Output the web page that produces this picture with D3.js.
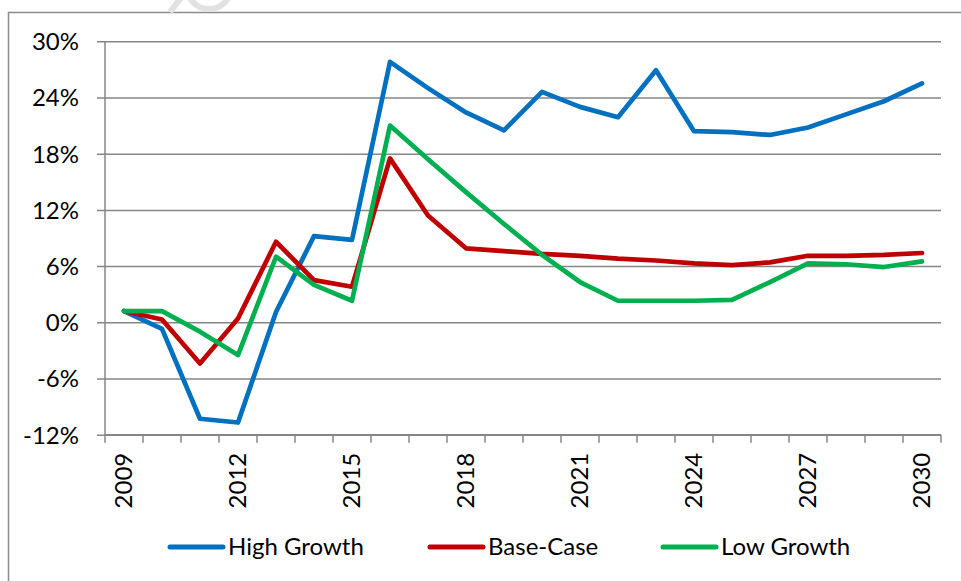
<!DOCTYPE html>
<html>
<head>
<meta charset="utf-8">
<script src="https://cdn.jsdelivr.net/npm/d3@7"></script>
<style>
  body { margin: 0; background: #fff; }
  text { font-family: Lato, "Open Sans", sans-serif; fill: #000; }
  .grid line { stroke: #868686; stroke-width: 1.5; }
  .line { fill: none; stroke-width: 4.7; stroke-linejoin: round; stroke-linecap: round; }
</style>
</head>
<body>
<div id="chart"></div>
<script>
// growth scenarios 2009 to 2030 (annual % change)

var years = ["2009","2010","2011","2012","2013","2014","2015","2016","2017","2018","2019",
             "2020","2021","2022","2023","2024","2025","2026","2027","2028","2029","2030"];
var yTicks = [-12, -6, 0, 6, 12, 18, 24, 30];
var xLabels = ["2009","2012","2015","2018","2021","2024","2027","2030"];

var highGrowth = [1.2, -0.7, -10.3, -10.7, 1.1, 9.2, 8.8, 27.8, 25.0, 22.4, 20.5,
                  24.6, 23.0, 21.9, 26.9, 20.4, 20.3, 20.0, 20.8, 22.2, 23.6, 25.5];
var baseCase = [1.2, 0.3, -4.4, 0.4, 8.6, 4.5, 3.8, 17.5, 11.4, 7.9, 7.6,
                7.3, 7.1, 6.8, 6.6, 6.3, 6.1, 6.4, 7.1, 7.1, 7.2, 7.4];
var lowGrowth = [1.2, 1.2, -1.0, -3.5, 7.0, 4.0, 2.3, 21.0, 17.4, 13.9, 10.5,
                 7.2, 4.3, 2.3, 2.3, 2.3, 2.4, 4.3, 6.3, 6.2, 5.9, 6.5];

var seriesNames = ["High Growth", "Base-Case", "Low Growth"];
var seriesColors = ["#0070C0", "#C00000", "#00B050"];

var data = [highGrowth, baseCase, lowGrowth].map(function(vals, i) {
  return {
    id: seriesNames[i],
    Values: vals.map(function(v, j) { return { year: years[j], value: v }; })
  };
});

var width = 961, height = 581;

var svg = d3.select('#chart')
    .append('svg')
    .attr('width', width)
    .attr('height', height);

// outer chart border (runs off the right and bottom of the picture)
svg.append('rect')
    .attr('x', 8.5)
    .attr('y', 12.5)
    .attr('width', 970)
    .attr('height', 590)
    .attr('fill', 'none')
    .attr('stroke', '#8c8c8c')
    .attr('stroke-width', 1.5);

// faint watermark remnant at the top (only its lower edge is visible)
var wm = svg.append('g').attr('stroke', '#e2e2e2').attr('fill', 'none').attr('stroke-width', 6);
wm.append('line').attr('x1', 170).attr('y1', 12).attr('x2', 181).attr('y2', -2);
wm.append('circle').attr('cx', 209).attr('cy', -13).attr('r', 22);

var margin = { top: 41.3, left: 105 };
var plotW = 941 - margin.left;
var plotH = 434.7 - margin.top;

var g = svg.append('g')
    .attr('transform', 'translate(' + margin.left + ',' + margin.top + ')');

var x_band = d3.scaleBand().domain(years).range([0, plotW]);
var x_scale = function(yr) { return x_band(yr) + x_band.bandwidth() / 2; };
var y_scale = d3.scaleLinear().domain([-12, 30]).range([plotH, 0]);

// horizontal gridlines + y axis labels
var yAxis = d3.axisLeft(y_scale)
    .tickValues(yTicks)
    .tickSize(-plotW)
    .tickPadding(26)
    .tickFormat(function(d) { return d + '%'; });

var gy = g.append('g').attr('class', 'grid').call(yAxis);
gy.select('.domain').remove();
gy.selectAll('.tick line').attr('x1', -8);
gy.selectAll('text')
    .style('font-size', '24px')
    .style('font-family', 'Lato, sans-serif')
    .attr('dy', '0.35em');

// vertical axis line
g.append('line')
    .attr('x1', 0).attr('x2', 0)
    .attr('y1', 0).attr('y2', plotH)
    .attr('stroke', '#868686').attr('stroke-width', 1.5);

// x axis: ticks between categories
var tickPos = years.map(function(y) { return x_band(y); }).concat([plotW]);
var gx = g.append('g').attr('transform', 'translate(0,' + plotH + ')');
gx.append('line')
    .attr('x1', 0).attr('x2', plotW)
    .attr('stroke', '#868686').attr('stroke-width', 1.5);
gx.selectAll('.xtick')
    .data(tickPos)
    .enter()
    .append('line')
    .attr('class', 'xtick')
    .attr('x1', function(d) { return d; })
    .attr('x2', function(d) { return d; })
    .attr('y1', 0).attr('y2', 8)
    .attr('stroke', '#868686').attr('stroke-width', 1.5);

gx.selectAll('.xlabel')
    .data(xLabels)
    .enter()
    .append('text')
    .attr('class', 'xlabel')
    .attr('transform', function(d) { return 'translate(' + x_scale(d) + ',18) rotate(-90)'; })
    .attr('dy', '0.35em')
    .style('text-anchor', 'end')
    .style('font-size', '24px')
    .text(function(d) { return d; });

// lines
var line = d3.line()
    .x(function(d) { return x_scale(d.year); })
    .y(function(d) { return y_scale(d.value); });

g.selectAll('.line')
    .data(data)
    .enter()
    .append('path')
    .attr('class', 'line')
    .attr('d', function(d) { return line(d.Values); })
    .style('stroke', function(d, i) { return seriesColors[i]; });

// legend
var legendX = [170, 430, 663];
var legend = svg.selectAll('.legend')
    .data(seriesNames)
    .enter()
    .append('g')
    .attr('class', 'legend')
    .attr('transform', function(d, i) { return 'translate(' + legendX[i] + ',547)'; });

legend.append('line')
    .attr('x1', 0).attr('x2', 53)
    .attr('stroke', function(d, i) { return seriesColors[i]; })
    .attr('stroke-width', 5)
    .attr('stroke-linecap', 'round');

legend.append('text')
    .attr('x', 58)
    .attr('dy', '0.35em')
    .style('font-size', '24px')
    .text(function(d) { return d; });
</script>
</body>
</html>
